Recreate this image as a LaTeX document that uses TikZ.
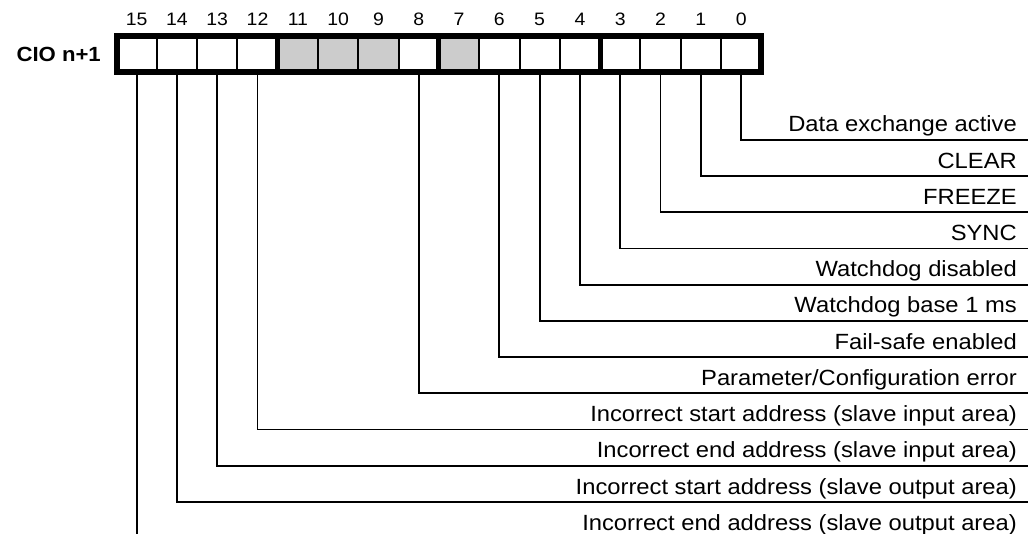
\documentclass[tikz,border=0pt]{standalone}
\usepackage{fontspec}
\setmainfont{Liberation Sans}[FakeStretch=1.08]
\usepackage{tikz}
\usetikzlibrary{positioning,calc}

\definecolor{resvgray}{RGB}{204,204,204}

\tikzset{
  bitcell/.style={draw, line width=2pt, minimum width=40.3pt, minimum height=36pt,
    inner sep=0pt, outer sep=0pt, fill=white},
  bitnum/.style={font=\fontsize{18}{21}\selectfont, inner sep=0pt},
  leader/.style={line width=1.8pt},
  flag/.style={anchor=base east, inner sep=0pt, font=\fontsize{22}{26}\selectfont},
}

\begin{document}
\begin{tikzpicture}[x=1pt, y=-1pt]
    \useasboundingbox (0,0) rectangle (1034,534);

    % Register cells (bit 15 on the left)
    \foreach \b in {0,1,2,3,4,5,6,8,12,13,14,15}
        \node[bitcell] (c\b) at ({136.65+40.3*(15-\b)},54) {};
    \foreach \b in {7,9,10,11}
        \node[bitcell, fill=resvgray] (c\b) at ({136.65+40.3*(15-\b)},54) {};

    % Frame and nibble borders
    \draw[line width=6pt] (c15.north west) rectangle (c0.south east);
    \foreach \b in {12,8,4}
        \draw[line width=5pt] (c\b.north east) -- (c\b.south east);

    % Bit numbers
    \foreach \b in {0,...,15}
        \node[bitnum] (n\b) at (c\b.north |- 0,19) {\b};

    \node[left=15.5pt of c15, inner sep=0pt, font=\bfseries\fontsize{20.5}{24}\selectfont] (reg) {CIO n+1};

    % Flags
    \foreach \b/\r/\txt in {0/0/{Data exchange active}, 1/1/{CLEAR}, 2/2/{FREEZE},
        3/3/{SYNC}, 4/4/{Watchdog disabled}, 5/5/{Watchdog base 1 ms},
        6/6/{Fail-safe enabled}, 8/7/{Parameter/Configuration error},
        12/8/{Incorrect start address (slave input area)},
        13/9/{Incorrect end address (slave input area)},
        14/10/{Incorrect start address (slave output area)}}{
        \coordinate (e\b) at (1028,{140+36.2*\r});
        \draw[leader] (c\b.south) |- (e\b);
        \node[flag] (f\b) at ($(e\b)+(-11,-8)$) {\txt};
    }

    \coordinate (e15) at (c15.south |- 0,534);
    \draw[leader] (c15.south) -- (e15);
    \node[flag] (f15) at (1017,{140+36.2*11-8}) {Incorrect end address (slave output area)};
\end{tikzpicture}
\end{document}
